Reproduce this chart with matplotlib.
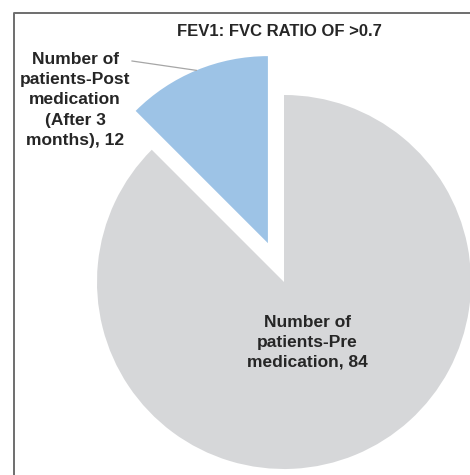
import matplotlib.pyplot as plt
import numpy as np

# data
title = "FEV1: FVC RATIO OF >0.7"
categories = ["Number of\npatients-Pre\nmedication",
              "Number of\npatients-Post\nmedication\n(After 3\nmonths)"]
values = [84, 12]
colors = ["#D6D7D9", "#9DC3E6"]
explode = [0, 0.225]  # fraction of radius

plt.rcParams['font.family'] = ['Liberation Sans', 'DejaVu Sans']

W, H = 470, 475
fig = plt.figure(figsize=(W / 100, H / 100), dpi=100)
ax = fig.add_axes([0, 0, 1, 1])

# pie in pixel-like coordinates (y up)
center = (284, H - 282)
radius = 187
wedges, _ = ax.pie(values, colors=colors, startangle=90, counterclock=False,
                   explode=[e * radius for e in explode], center=center,
                   radius=radius, wedgeprops=dict(linewidth=0))
ax.set_xlim(0, W)
ax.set_ylim(0, H)
ax.set_aspect('equal')
ax.axis('off')

# inside label for the big slice
ax.text(307, H - 342, f"{categories[0]}, {values[0]}", ha='center', va='center',
        fontsize=12.5, fontweight='bold', color='#262626', linespacing=1.4)

# outside label for the exploded slice, with leader line
ax.text(75, H - 100, f"{categories[1]}, {values[1]}", ha='center', va='center',
        fontsize=12.5, fontweight='bold', color='#262626', linespacing=1.45)
w = wedges[1]
mid = np.deg2rad((w.theta1 + w.theta2) / 2)
cx, cy = w.center
px, py = cx + w.r * np.cos(mid), cy + w.r * np.sin(mid)
ax.plot([132, px], [H - 61, py], color='#A6A6A6', linewidth=0.9)

# title
ax.text(279.5, H - 31, title, ha='center', va='center', fontsize=12,
        fontweight='bold', color='#262626')

# chart frame (left and top edges visible)
ax.plot([14, 14, W + 5], [-5, H - 13, H - 13], color='#6E6E6E', linewidth=1.4,
        clip_on=False)

fig.savefig("out.png", dpi=100)
